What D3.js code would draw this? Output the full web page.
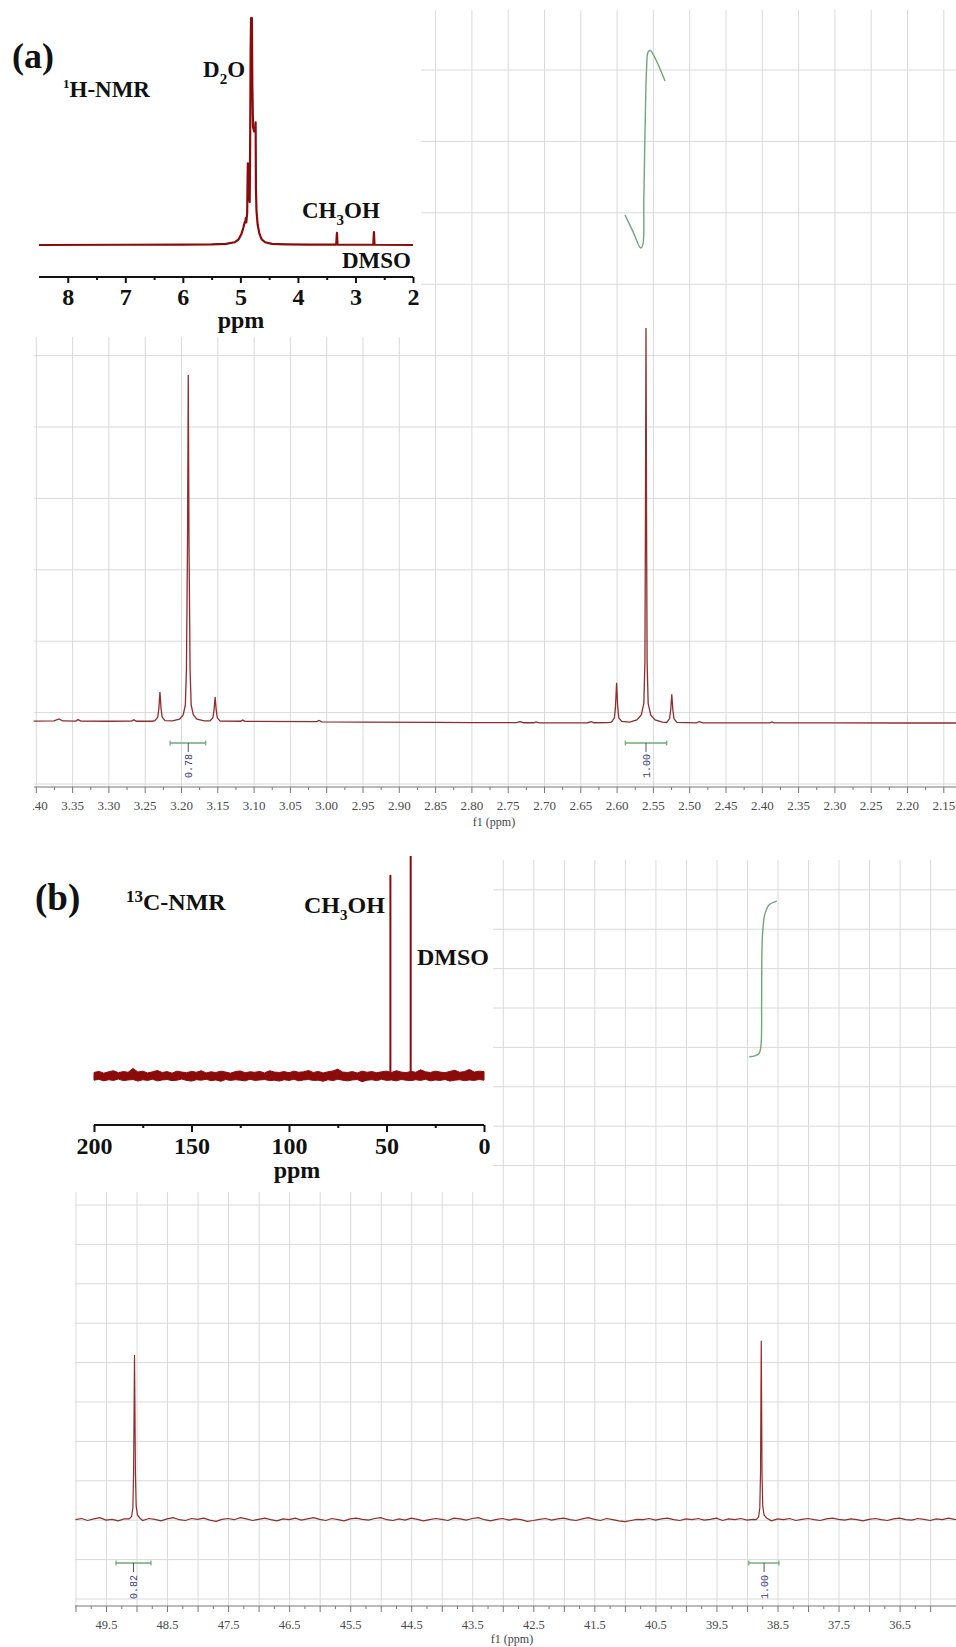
<!DOCTYPE html>
<html lang="en">
<head>
<meta charset="UTF-8"/>
<title>1H and 13C NMR of CH3OH</title>
<script src="https://d3js.org/d3.v7.min.js"></script>
<style>
body { margin: 0; background: #fff; }
svg { display: block; }
.grid line { stroke: #dadada; stroke-width: 1; }
.grid path { display: none; }
.axis path { display: none; }
.axis line { stroke: #777; }
.axis text { font-family: 'Liberation Serif', serif; font-size: 13px; fill: #4a4a4a; }
.inset path.domain { display: none; }
.inset line { stroke: #111; stroke-width: 2; }
.inset text { font-family: 'Liberation Serif', serif; font-weight: bold; font-size: 24px; fill: #111; }
.lbl { font-family: 'Liberation Serif', serif; font-weight: bold; fill: #111; }
.int-label { font-family: 'Liberation Mono', monospace; font-size: 10px; fill: #3b3b7a; }
</style>
</head>
<body>
<svg id="chart" width="956" height="1647"></svg>
<script>
// ---------- (a) 1H zoomed spectrum ----------
const h1Ticks = [3.40, 3.35, 3.30, 3.25, 3.20, 3.15, 3.10, 3.05, 3.00, 2.95, 2.90, 2.85, 2.80,
  2.75, 2.70, 2.65, 2.60, 2.55, 2.50, 2.45, 2.40, 2.35, 2.30, 2.25, 2.20, 2.15];
const h1GridRows = [0, 1, 2, 3, 4, 5, 6, 7, 8, 9, 10];

// [ppm, intensity]
const h1Spectrum = [
  [3.403, 0.875], [3.375, 0.878], [3.368, 0.905], [3.363, 0.876], [3.345, 0.874], [3.342, 0.895], [3.338, 0.873],
  [3.300, 0.872], [3.268, 0.874], [3.265, 0.892], [3.261, 0.872], [3.240, 0.872],
  [3.236, 0.88], [3.232, 0.93], [3.2305, 1.05], [3.229, 1.28], [3.2275, 1.05], [3.226, 0.93], [3.222, 0.88],
  [3.212, 0.878], [3.202, 0.9], [3.197, 0.96], [3.194, 1.1], [3.1925, 1.6], [3.191, 3.4], [3.190, 5.72],
  [3.189, 3.4], [3.1875, 1.6], [3.186, 1.1], [3.183, 0.96], [3.178, 0.9], [3.168, 0.878],
  [3.160, 0.876], [3.156, 0.92], [3.1545, 1.03], [3.153, 1.21], [3.1515, 1.03], [3.150, 0.92], [3.146, 0.874],
  [3.118, 0.872], [3.115, 0.888], [3.112, 0.87], [3.013, 0.866], [3.010, 0.882], [3.006, 0.864],
  [2.950, 0.86], [2.850, 0.855], [2.800, 0.852], [2.738, 0.852], [2.733, 0.866], [2.728, 0.851],
  [2.714, 0.851], [2.711, 0.863], [2.707, 0.85], [2.640, 0.851], [2.635, 0.866], [2.631, 0.851], [2.612, 0.852],
  [2.607, 0.86], [2.603, 0.92], [2.6015, 1.08], [2.600, 1.41], [2.5985, 1.08], [2.597, 0.92], [2.593, 0.87],
  [2.582, 0.86], [2.572, 0.89], [2.566, 0.96], [2.5625, 1.12], [2.561, 1.7], [2.5603, 3.6], [2.5595, 6.38],
  [2.5587, 3.6], [2.558, 1.7], [2.5565, 1.12], [2.553, 0.96], [2.547, 0.89], [2.537, 0.86],
  [2.531, 0.855], [2.527, 0.91], [2.5255, 1.03], [2.524, 1.25], [2.5225, 1.03], [2.521, 0.91], [2.517, 0.856],
  [2.490, 0.85], [2.486, 0.866], [2.481, 0.85], [2.389, 0.849], [2.386, 0.862], [2.383, 0.848],
  [2.300, 0.848], [2.200, 0.847], [2.130, 0.847]
];

const h1Integral = [
  [2.5884, 7.96], [2.5774, 7.73], [2.5668, 7.50], [2.5640, 7.54], [2.5625, 8.17], [2.5608, 9.15],
  [2.5588, 9.99], [2.5568, 10.24], [2.5540, 10.27], [2.5470, 10.16], [2.5333, 9.84]
];
const h1Integrations = [
  { from: 3.215, to: 3.166, center: 3.190, label: "0.78" },
  { from: 2.588, to: 2.531, center: 2.5595, label: "1.00" }
];

// ---------- (a) inset, full 1H spectrum ----------
const h1InsetTicks = [8, 7, 6, 5, 4, 3, 2];
const h1InsetSpectrum = [
  [8.5, 0], [7.0, 0.001], [6.0, 0.002], [5.5, 0.003], [5.25, 0.005], [5.1, 0.012], [5.03, 0.025],
  [4.98, 0.05], [4.95, 0.075], [4.925, 0.1], [4.912, 0.105], [4.905, 0.12], [4.898, 0.1], [4.882, 0.14], [4.874, 0.3],
  [4.87, 0.36], [4.864, 0.26], [4.85, 0.21], [4.838, 0.19], [4.83, 0.45], [4.822, 0.85], [4.815, 1.0],
  [4.808, 0.97], [4.80, 1.0], [4.792, 0.7], [4.78, 0.52], [4.76, 0.5], [4.742, 0.52], [4.735, 0.54],
  [4.73, 0.25], [4.72, 0.15], [4.70, 0.09], [4.67, 0.05], [4.63, 0.025], [4.57, 0.012], [4.45, 0.005],
  [4.2, 0.003], [3.8, 0.002], [3.335, 0.002], [3.322, 0.053], [3.312, 0.002], [2.69, 0.001],
  [2.679, 0.057], [2.669, 0.001], [2.0, 0]
];

// ---------- (b) 13C zoomed spectrum ----------
const c13Ticks = [50.0, 49.5, 49.0, 48.5, 48.0, 47.5, 47.0, 46.5, 46.0, 45.5, 45.0, 44.5, 44.0, 43.5,
  43.0, 42.5, 42.0, 41.5, 41.0, 40.5, 40.0, 39.5, 39.0, 38.5, 38.0, 37.5, 37.0, 36.5, 36.0];
const c13TickLabels = [49.5, 48.5, 47.5, 46.5, 45.5, 44.5, 43.5, 42.5, 41.5, 40.5, 39.5, 38.5, 37.5, 36.5];
const c13GridRows = [0, 1, 2, 3, 4, 5, 6, 7, 8, 9, 10, 11, 12, 13, 14, 15, 16, 17, 18];

// baseline read every 0.1 ppm from 50.0 ppm downward
const c13Baseline = [
  2.00, 2.03, 1.98, 2.02, 2.05, 1.99, 2.01, 1.97, 2.02, 2.04,
  2.00, 1.98, 2.03, 2.01, 1.97, 2.02, 2.05, 2.00, 1.98, 2.03,
  2.01, 2.04, 1.99, 1.96, 2.01, 2.03, 2.00, 2.05, 2.02, 1.98,
  2.01, 2.04, 2.00, 1.97, 2.02, 2.00, 2.04, 1.99, 2.02, 2.05,
  2.01, 1.98, 2.03, 2.00, 1.97, 2.02, 2.04, 2.01, 1.99, 2.03,
  2.05, 2.00, 1.98, 2.02, 1.99, 2.04, 2.01, 1.97, 2.00, 2.03,
  2.01, 1.98, 2.04, 2.02, 1.99, 2.03, 2.05, 2.00, 1.97, 2.01,
  2.03, 1.99, 2.02, 2.00, 1.96, 1.98, 2.01, 2.03, 1.99, 2.02,
  2.04, 2.00, 1.98, 2.02, 2.05, 2.01, 1.98, 2.03, 2.00, 1.97,
  1.95, 1.98, 2.01, 2.00, 2.03, 1.99, 2.02, 2.04, 2.00, 1.98,
  2.02, 2.00, 2.03, 1.99, 2.01, 2.04, 1.98, 2.02, 2.00, 2.03,
  1.99, 2.01, 2.04, 2.00, 1.97, 2.02, 2.00, 2.03, 1.98, 2.01,
  2.03, 2.00, 1.98, 2.02, 2.04, 2.01, 1.99, 2.02, 2.00, 1.97,
  2.01, 2.03, 2.00, 1.98, 2.02, 2.04, 2.00, 1.99, 2.03, 2.01,
  1.98, 2.02, 2.00, 2.04, 2.01, 1.99
];
const c13Peaks = [
  [[49.12, 2.02], [49.08, 2.08], [49.06, 2.3], [49.048, 3.2], [49.04, 4.8], [49.033, 6.18],
   [49.026, 4.8], [49.018, 3.2], [49.006, 2.35], [48.985, 2.12], [48.95, 2.05]],
  [[38.85, 2.0], [38.81, 2.07], [38.79, 2.3], [38.778, 3.2], [38.772, 4.9], [38.766, 6.54],
   [38.76, 4.9], [38.754, 3.2], [38.742, 2.35], [38.72, 2.12], [38.68, 2.04]]
];
const c13Integral = [
  [38.963, 13.75], [38.87, 13.77], [38.80, 13.84], [38.77, 14.05], [38.76, 15.19], [38.755, 16.46],
  [38.74, 16.97], [38.71, 17.35], [38.64, 17.60], [38.51, 17.70]
];
const c13Integrations = [
  { from: 49.336, to: 48.763, center: 49.05, label: "0.82" },
  { from: 38.97, to: 38.476, center: 38.72, label: "1.00" }
];

// ---------- (b) inset, full 13C spectrum ----------
const c13InsetTicks = [200, 150, 100, 50, 0];
// noise band edges read every 2.5 ppm from 200 ppm down to 0 ppm
const c13InsetNoiseTop = [
  0.016, 0.021, 0.013, 0.019, 0.024, 0.015, 0.02, 0.017, 0.034, 0.018,
  0.022, 0.014, 0.019, 0.025, 0.016, 0.02, 0.013, 0.022, 0.018, 0.015,
  0.021, 0.017, 0.024, 0.014, 0.019, 0.016, 0.022, 0.018, 0.013, 0.02,
  0.023, 0.015, 0.019, 0.017, 0.021, 0.014, 0.024, 0.018, 0.016, 0.02,
  0.015, 0.022, 0.017, 0.019, 0.025, 0.016, 0.021, 0.014, 0.019, 0.023,
  0.031, 0.018, 0.016, 0.02, 0.014, 0.022, 0.017, 0.02, 0.015, 0.019,
  0.022, 0.016, 0.024, 0.018, 0.015, 0.021, 0.017, 0.028, 0.019, 0.016,
  0.022, 0.018, 0.015, 0.021, 0.026, 0.017, 0.02, 0.03, 0.018, 0.022, 0.02];
const c13InsetNoiseBottom = [
  -0.019, -0.015, -0.022, -0.017, -0.02, -0.014, -0.021, -0.018, -0.016, -0.023,
  -0.017, -0.02, -0.015, -0.022, -0.018, -0.016, -0.021, -0.019, -0.014, -0.02,
  -0.023, -0.017, -0.019, -0.015, -0.021, -0.018, -0.024, -0.016, -0.02, -0.017,
  -0.019, -0.022, -0.015, -0.02, -0.018, -0.016, -0.021, -0.019, -0.023, -0.017,
  -0.02, -0.015, -0.022, -0.018, -0.016, -0.02, -0.019, -0.024, -0.017, -0.021,
  -0.015, -0.019, -0.022, -0.018, -0.016, -0.026, -0.019, -0.017, -0.021, -0.015,
  -0.02, -0.018, -0.022, -0.016, -0.019, -0.021, -0.017, -0.02, -0.015, -0.022,
  -0.018, -0.02, -0.016, -0.023, -0.019, -0.017, -0.021, -0.018, -0.02, -0.016, -0.019];
const c13InsetPeaks = [
  { ppm: 48.0, height: 0.914 },
  { ppm: 37.6, height: 1.0 }
];

// ================= drawing =================
const svg = d3.select('#chart');
const mainRed = '#8f2c2c';
const insetRed = '#8b0a0a';
const green = '#6fa877';

svg.append('defs').append('clipPath').attr('id', 'clipA')
  .append('rect').attr('x', 33).attr('y', 0).attr('width', 923).attr('height', 840);

// ---- panel (a) main ----
const xA = d3.scaleLinear().domain([3.20, 2.20]).range([181, 907]);
const yA = d3.scaleLinear().domain([0, 10]).range([783.5, 69.5]);
const axisYA = 787, leftA = 34, gridTopA = 10;

const gA = svg.append('g').attr('clip-path', 'url(#clipA)');

gA.append('g').attr('class', 'grid')
  .attr('transform', `translate(0,${axisYA})`)
  .call(d3.axisBottom(xA).tickValues(h1Ticks).tickSize(-(axisYA - gridTopA)).tickFormat(''));
gA.append('g').attr('class', 'grid')
  .attr('transform', `translate(${leftA},0)`)
  .call(d3.axisLeft(yA).tickValues(h1GridRows).tickSize(-(956 - leftA)).tickFormat(''));

const axA = gA.append('g').attr('class', 'axis').attr('transform', `translate(0,${axisYA})`);
axA.call(d3.axisBottom(xA).tickValues(h1Ticks).tickSize(6).tickPadding(8).tickFormat(d3.format('.2f')));
axA.append('g').call(d3.axisBottom(xA)
  .tickValues(h1Ticks.slice(0, -1).map(t => t - 0.025)).tickSize(3).tickFormat(''));
axA.append('line').attr('x1', leftA).attr('x2', 956).attr('y1', 0).attr('y2', 0).attr('stroke', '#777');

gA.append('path').datum(h1Spectrum)
  .attr('fill', 'none').attr('stroke', mainRed).attr('stroke-width', 1.3)
  .attr('d', d3.line().x(d => xA(d[0])).y(d => yA(d[1])));

gA.append('path').datum(h1Integral)
  .attr('fill', 'none').attr('stroke', green).attr('stroke-width', 1.4)
  .attr('d', d3.line().x(d => xA(d[0])).y(d => yA(d[1])).curve(d3.curveCatmullRom));

function drawIntegrations(g, xs, list, yBar, labelOffset) {
  list.forEach(d => {
    const x1 = xs(d.from), x2 = xs(d.to), xc = xs(d.center);
    g.append('line').attr('x1', x1).attr('x2', x2).attr('y1', yBar).attr('y2', yBar)
      .attr('stroke', green).attr('stroke-width', 1.4);
    [x1, x2].forEach(x => g.append('line').attr('x1', x).attr('x2', x)
      .attr('y1', yBar - 2.5).attr('y2', yBar + 2.5).attr('stroke', green).attr('stroke-width', 1.2));
    g.append('line').attr('x1', xc).attr('x2', xc).attr('y1', yBar).attr('y2', yBar + 9)
      .attr('stroke', '#555').attr('stroke-width', 1);
    g.append('text').attr('class', 'int-label')
      .attr('transform', `translate(${xc + 3.5},${yBar + labelOffset}) rotate(-90)`)
      .text(d.label);
  });
}
drawIntegrations(gA, xA, h1Integrations, 743, 35);

svg.append('text').attr('x', 494).attr('y', 826).attr('text-anchor', 'middle')
  .style('font-family', "'Liberation Serif', serif").style('font-size', '12px').style('fill', '#444')
  .text('f1 (ppm)');

// ---- panel (a) inset ----
svg.append('rect').attr('x', 0).attr('y', 0).attr('width', 421).attr('height', 337).attr('fill', '#fff');

const xIA = d3.scaleLinear().domain([8.5, 2]).range([39, 413]);
const yIA = d3.scaleLinear().domain([0, 1]).range([245, 18]);
const gIA = svg.append('g');

gIA.append('path').datum(h1InsetSpectrum)
  .attr('fill', 'none').attr('stroke', insetRed).attr('stroke-width', 2.2).attr('stroke-linejoin', 'round')
  .attr('d', d3.line().x(d => xIA(d[0])).y(d => yIA(d[1])));

const axIA = gIA.append('g').attr('class', 'inset').attr('transform', 'translate(0,277)');
axIA.call(d3.axisBottom(xIA).tickValues(h1InsetTicks).tickSize(6).tickPadding(5).tickFormat(d3.format('d')));
axIA.append('g').call(d3.axisBottom(xIA).tickValues(h1InsetTicks.slice(0, -1).map(t => t - 0.5)).tickSize(3).tickFormat(''));
axIA.append('line').attr('x1', 39).attr('x2', 413).attr('stroke-width', 3);
gIA.append('text').attr('class', 'lbl').attr('x', 241).attr('y', 328).attr('text-anchor', 'middle')
  .style('font-size', '24px').text('ppm');

gIA.append('text').attr('class', 'lbl').attr('x', 12).attr('y', 68).style('font-size', '36px').text('(a)');
const tH = gIA.append('text').attr('class', 'lbl').attr('x', 63).attr('y', 97).style('font-size', '23px');
tH.append('tspan').style('font-size', '13px').attr('dy', -9).text('1');
tH.append('tspan').attr('dy', 9).text('H-NMR');
const tD = gIA.append('text').attr('class', 'lbl').attr('x', 203).attr('y', 77).style('font-size', '23px');
tD.append('tspan').text('D');
tD.append('tspan').style('font-size', '15px').attr('dy', 7).text('2');
tD.append('tspan').attr('dy', -7).text('O');
const tM = gIA.append('text').attr('class', 'lbl').attr('x', 302).attr('y', 218).style('font-size', '23px');
tM.append('tspan').text('CH');
tM.append('tspan').style('font-size', '15px').attr('dy', 7).text('3');
tM.append('tspan').attr('dy', -7).text('OH');
gIA.append('text').attr('class', 'lbl').attr('x', 342).attr('y', 268).style('font-size', '23px').text('DMSO');

// ---- panel (b) main ----
const xB = d3.scaleLinear().domain([49.5, 36.5]).range([106, 899.6]);
const yB = d3.scaleLinear().domain([0, 18]).range([1598.5, 889.3]);
const axisYB = 1606, leftB = 75, gridTopB = 860;
const gB = svg.append('g');

gB.append('g').attr('class', 'grid')
  .attr('transform', `translate(0,${axisYB})`)
  .call(d3.axisBottom(xB).tickValues(c13Ticks).tickSize(-(axisYB - gridTopB)).tickFormat(''));
gB.append('g').attr('class', 'grid')
  .attr('transform', `translate(${leftB},0)`)
  .call(d3.axisLeft(yB).tickValues(c13GridRows).tickSize(-(956 - leftB)).tickFormat(''));

const axB = gB.append('g').attr('class', 'axis').attr('transform', `translate(0,${axisYB})`);
axB.call(d3.axisBottom(xB).tickValues(c13Ticks).tickSize(6).tickFormat(''));
axB.append('g').call(d3.axisBottom(xB).tickValues(c13Ticks.slice(0, -1).map(t => t - 0.25)).tickSize(3).tickFormat(''));
axB.append('g').call(d3.axisBottom(xB).tickValues(c13TickLabels).tickSize(0).tickPadding(14).tickFormat(d3.format('.1f')))
  .selectAll('text').style('font-size', '12.5px');
axB.append('line').attr('x1', leftB).attr('x2', 956).attr('stroke', '#777');

const c13Trace = c13Baseline
  .map((v, i) => [+(50.0 - i * 0.1).toFixed(2), v])
  .filter(p => !c13Peaks.some(pk => p[0] <= pk[0][0] && p[0] >= pk[pk.length - 1][0]))
  .concat(...c13Peaks)
  .sort((a, b) => b[0] - a[0]);

gB.append('path').datum(c13Trace)
  .attr('fill', 'none').attr('stroke', mainRed).attr('stroke-width', 1.2)
  .attr('d', d3.line().x(d => xB(d[0])).y(d => yB(d[1])));

gB.append('path').datum(c13Integral)
  .attr('fill', 'none').attr('stroke', green).attr('stroke-width', 1.4)
  .attr('d', d3.line().x(d => xB(d[0])).y(d => yB(d[1])).curve(d3.curveCatmullRom));

drawIntegrations(gB, xB, c13Integrations, 1563, 36);

svg.append('text').attr('x', 512).attr('y', 1643).attr('text-anchor', 'middle')
  .style('font-family', "'Liberation Serif', serif").style('font-size', '12px').style('fill', '#444')
  .text('f1 (ppm)');

// ---- panel (b) inset ----
svg.append('rect').attr('x', 0).attr('y', 838).attr('width', 493).attr('height', 354).attr('fill', '#fff');

const xIB = d3.scaleLinear().domain([200, 0]).range([94, 484]);
const yIB = d3.scaleLinear().domain([0, 1]).range([1076, 856]);
const gIB = svg.append('g');

const c13InsetPpm = c13InsetNoiseTop.map((v, i) => 200 - i * 2.5);
gIB.append('path').datum(c13InsetPpm.map((p, i) => [p, c13InsetNoiseTop[i], c13InsetNoiseBottom[i]]))
  .attr('fill', insetRed).attr('stroke', insetRed).attr('stroke-width', 1).attr('stroke-linejoin', 'round')
  .attr('d', d3.area().x(d => xIB(d[0])).y0(d => yIB(d[2])).y1(d => yIB(d[1])));

gIB.selectAll('line.pk').data(c13InsetPeaks).join('line').attr('class', 'pk')
  .attr('x1', d => xIB(d.ppm)).attr('x2', d => xIB(d.ppm))
  .attr('y1', yIB(0)).attr('y2', d => yIB(d.height))
  .attr('stroke', insetRed).attr('stroke-width', 2);

const axIB = gIB.append('g').attr('class', 'inset').attr('transform', 'translate(0,1125)');
axIB.call(d3.axisBottom(xIB).tickValues(c13InsetTicks).tickSize(7).tickPadding(5));
axIB.append('g').call(d3.axisBottom(xIB).tickValues(c13InsetTicks.slice(0, -1).map(t => t - 25)).tickSize(3).tickFormat(''));
axIB.append('line').attr('x1', 94).attr('x2', 484).attr('stroke-width', 3);
gIB.append('text').attr('class', 'lbl').attr('x', 297).attr('y', 1178).attr('text-anchor', 'middle')
  .style('font-size', '24px').text('ppm');

gIB.append('text').attr('class', 'lbl').attr('x', 35).attr('y', 910).style('font-size', '37px').text('(b)');
const tC = gIB.append('text').attr('class', 'lbl').attr('x', 126).attr('y', 910).style('font-size', '24px');
tC.append('tspan').style('font-size', '17px').attr('dy', -8).text('13');
tC.append('tspan').attr('dy', 8).text('C-NMR');
const tM2 = gIB.append('text').attr('class', 'lbl').attr('x', 304).attr('y', 913).style('font-size', '24px');
tM2.append('tspan').text('CH');
tM2.append('tspan').style('font-size', '15px').attr('dy', 7).text('3');
tM2.append('tspan').attr('dy', -7).text('OH');
gIB.append('text').attr('class', 'lbl').attr('x', 417).attr('y', 965).style('font-size', '24px').text('DMSO');
</script>
</body>
</html>
